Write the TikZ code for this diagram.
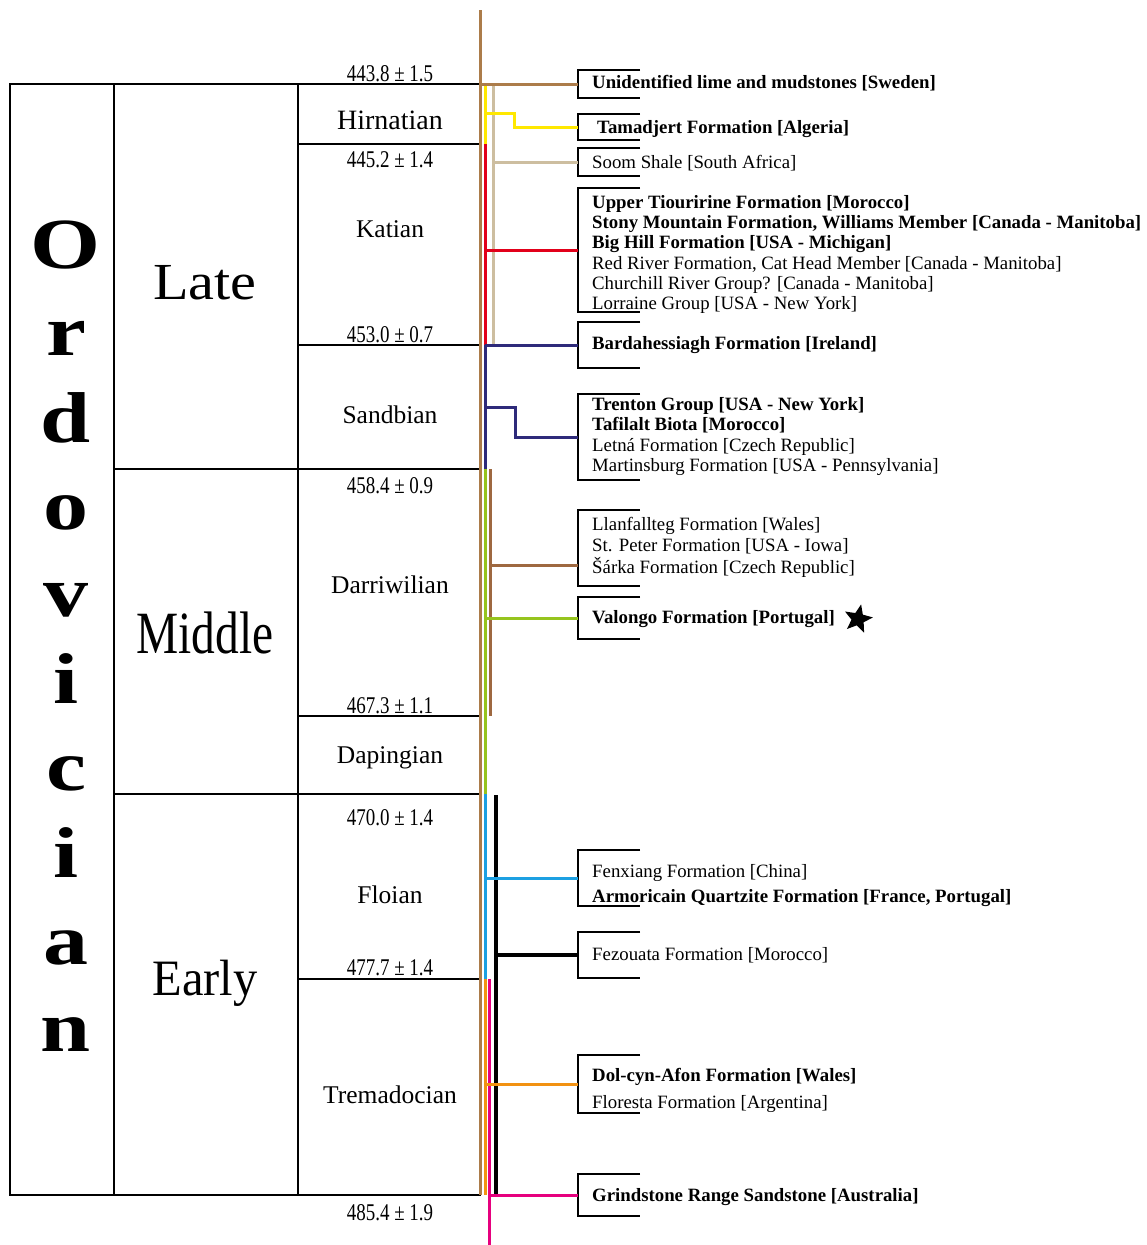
\documentclass[tikz,border=0pt]{standalone}
\usepackage{fontspec}
\usepackage{graphicx}
\setmainfont{Liberation Serif}
\newfontfamily\agefont[FakeStretch=0.79]{Liberation Serif}
\usetikzlibrary{shapes.geometric,calc}

\definecolor{trunkbrown}{RGB}{172,124,74}
\definecolor{algyellow}{RGB}{255,232,0}
\definecolor{soomtan}{RGB}{205,190,160}
\definecolor{katred}{RGB}{226,0,26}
\definecolor{sandnavy}{RGB}{46,42,122}
\definecolor{darrgreen}{RGB}{150,196,30}
\definecolor{darrbrown}{RGB}{158,104,64}
\definecolor{floicyan}{RGB}{28,160,226}
\definecolor{tremorange}{RGB}{242,146,18}
\definecolor{grindpink}{RGB}{230,0,126}

% the "[" in front of every list of formations
\newcommand{\formbracket}[1]{\draw[bracketline] ([xshift=48pt]#1.north west) -- ([xshift=-14pt]#1.north west) -- ([xshift=-14pt]#1.south west) -- ([xshift=48pt]#1.south west);}
% list of formations, lowered inside its bracket
\newcommand{\locality}[2]{\raisebox{-#1}[\height][\depth]{\begin{tabular}{@{}l@{}}#2\end{tabular}}}

\begin{document}
\begin{tikzpicture}[x=1pt,y=-1pt,every node/.style={inner sep=0pt},
	rule/.style={line width=1.5pt},bracketline/.style={line width=2pt},link/.style={line width=3pt},
	age/.style={font=\agefont\fontsize{24}{24}\selectfont,anchor=base},
	stage/.style={font=\fontsize{25.5}{26}\selectfont,anchor=base},
	series/.style={font=\fontsize{52}{52}\selectfont,anchor=base},
	letter/.style={font=\fontsize{72}{72}\selectfont\bfseries,anchor=base},
	formation/.style={anchor=west,font=\fontsize{18.8}{20.3}\selectfont}]
	\useasboundingbox (0,0) rectangle (1146,1245);
	% time scale
	\draw[rule] (10,84) rectangle (480,1195);
	\draw[rule] (114,84) -- (114,1195) (298,84) -- (298,1195);
	\foreach \y in {469,794} \draw[rule] (114,\y) -- (480,\y);
	\foreach \y in {144,345,716,979} \draw[rule] (298,\y) -- (480,\y);
	\foreach \l [count=\i from 0] in {O,r,d,o,v,i,c,i,a,n}
		\node[letter] (ordo\i) at (66,268+87*\i) {\scalebox{1.25}[1]{\l}};
	\node[series] (late) at (205,299) {\scalebox{1.12}[1]{Late}};
	\node[series,font=\fontsize{60}{60}\selectfont] (middle) at (205,653) {\scalebox{0.79}[1]{Middle}};
	\node[series,font=\fontsize{51}{51}\selectfont] (early) at (205,995) {\scalebox{0.95}[1]{Early}};
	\node[stage,font=\fontsize{28}{28}\selectfont] (hirnatian) at (390,129) {Hirnatian};
	\node[stage] (katian) at (390,237) {Katian};
	\node[stage] (sandbian) at (390,423) {Sandbian};
	\node[stage] (darriwilian) at (390,593) {Darriwilian};
	\node[stage] (dapingian) at (390,763) {Dapingian};
	\node[stage] (floian) at (390,903) {Floian};
	\node[stage] (tremadocian) at (390,1103) {Tremadocian};
	\foreach \y/\t [count=\i] in {81/443.8 ± 1.5,167/445.2 ± 1.4,342/453.0 ± 0.7,493/458.4 ± 0.9,713/467.3 ± 1.1,825/470.0 ± 1.4,975/477.7 ± 1.4,1220/485.4 ± 1.9}
		\node[age] (age\i) at (390,\y) {\t};
	% localities
	\node[formation,minimum height=27pt] (swe) at (592,84) {\locality{0pt}{\bfseries Unidentified lime and mudstones [Sweden]}};
	\node[formation,minimum height=25pt] (tam) at (592,127) {\locality{2pt}{\hspace*{5pt}\bfseries Tamadjert Formation [Algeria]}};
	\node[formation,minimum height=28pt] (soom) at (592,162) {\locality{2pt}{Soom Shale [South Africa]}};
	\node[formation,minimum height=124pt] (tio) at (592,250) {\locality{5pt}{\bfseries Upper Tiouririne Formation [Morocco]\\ \bfseries Stony Mountain Formation, Williams Member [Canada - Manitoba]\\ \bfseries Big Hill Formation [USA - Michigan]\\ Red River Formation, Cat Head Member [Canada - Manitoba]\\ Churchill River Group? [Canada - Manitoba]\\ Lorraine Group [USA - New York]}};
	\node[formation,minimum height=46pt] (bard) at (592,345) {\locality{0pt}{\bfseries Bardahessiagh Formation [Ireland]}};
	\node[formation,minimum height=86pt] (trent) at (592,437) {\locality{0pt}{\bfseries Trenton Group [USA - New York]\\ \bfseries Tafilalt Biota [Morocco]\\ Letná Formation [Czech Republic]\\ Martinsburg Formation [USA - Pennsylvania]}};
	\node[formation,minimum height=76pt] (llan) at (592,548) {\locality{0pt}{Llanfallteg Formation [Wales]\\ St. Peter Formation [USA - Iowa]\\ Šárka Formation [Czech Republic]}};
	\node[formation,minimum height=42pt] (val) at (592,618) {\locality{1pt}{\bfseries Valongo Formation [Portugal]}};
	\node[star,star points=5,star point ratio=2.3,fill=black,minimum size=30pt,rotate=-12] (valstar) at (858,619) {};
	\node[formation,minimum height=55pt] (fen) at (592,878) {\locality{8pt}{Fenxiang Formation [China]\\[4pt] \bfseries Armoricain Quartzite Formation [France, Portugal]}};
	\node[formation,minimum height=45pt] (fezo) at (592,955) {\locality{1pt}{Fezouata Formation [Morocco]}};
	\node[formation,minimum height=57pt] (dol) at (592,1084) {\locality{7pt}{\bfseries Dol-cyn-Afon Formation [Wales]\\[6pt] Floresta Formation [Argentina]}};
	\node[formation,minimum height=41pt] (grind) at (592,1195) {\locality{2pt}{\bfseries Grindstone Range Sandstone [Australia]}};
	\foreach \f in {swe,tam,soom,tio,bard,trent,llan,val,fen,fezo,dol,grind} \formbracket{\f}
	% range lines
	\coordinate (outer) at (480,0);
	\coordinate (inner) at (485,0);
	\coordinate (pinkline) at (489,0);
	\coordinate (darrline) at (490,0);
	\coordinate (tanline) at (493,0);
	\coordinate (fezline) at (496,0);
	\coordinate (bx) at (578,0);
	\draw[link,trunkbrown] (480,10) -- (480,1195);
	\draw[link,algyellow] (485,84) -- (485,144);
	\draw[link,soomtan] (493,84) -- (493,345);
	\draw[link,katred] (485,144) -- (485,345);
	\draw[link,sandnavy] (485,345) -- (485,469);
	\draw[link,darrgreen] (485,469) -- (485,794);
	\draw[link,darrbrown] (490,469) -- (490,716);
	\draw[link,floicyan] (485,794) -- (485,979);
	\draw[link,tremorange] (485,979) -- (485,1195);
	\draw[link,grindpink] (489,979) -- (489,1245);
	\draw[line width=3.5pt] (496,795) -- (496,1195);
	\draw[link,trunkbrown] (swe.west -| outer) -- (swe.west -| bx);
	\draw[link,algyellow] ($(tam.west -| inner)+(0,-14)$) -| ($(tam.west -| bx)+(-64,0)$) -- (tam.west -| bx);
	\draw[link,soomtan] (soom.west -| tanline) -- (soom.west -| bx);
	\draw[link,katred] (tio.west -| inner) -- (tio.west -| bx);
	\draw[link,sandnavy] (bard.west -| inner) -- (bard.west -| bx);
	\draw[link,sandnavy] ($(trent.west -| inner)+(0,-30)$) -| ($(trent.west -| bx)+(-63,0)$) -- (trent.west -| bx);
	\draw[link,darrbrown] ($(llan.west -| darrline)+(0,17)$) -- ($(llan.west -| bx)+(0,17)$);
	\draw[link,darrgreen] (val.west -| inner) -- (val.west -| bx);
	\draw[link,floicyan] (fen.west -| inner) -- (fen.west -| bx);
	\draw[line width=3.5pt] (fezo.west -| fezline) -- (fezo.west -| bx);
	\draw[link,tremorange] (dol.west -| inner) -- (dol.west -| bx);
	\draw[link,grindpink] (grind.west -| pinkline) -- (grind.west -| bx);
\end{tikzpicture}
\end{document}
